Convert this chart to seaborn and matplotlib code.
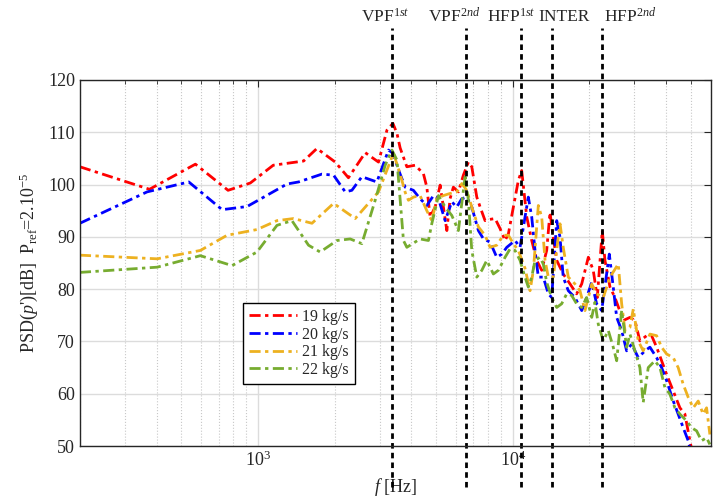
import numpy as np
import pandas as pd
import matplotlib
matplotlib.use("Agg")
import matplotlib.pyplot as plt
import matplotlib.ticker as mticker
import seaborn as sns

# PSD spectra (frequency in Hz, level in dB)
f_19 = [200, 375, 568, 763, 933, 1148, 1510, 1703, 2010, 2265, 2636, 2972, 3207, 3385, 3511,
        3614, 3840, 4137, 4459, 4600, 4739, 4959, 5188, 5512, 5675, 5846, 6118, 6400, 6698,
        6905, 7225, 7447, 7786, 8020, 8524, 8913, 9330, 9615, 10055, 10520, 10840, 11350,
        11870, 12420, 12990, 13590, 14000, 14350, 14880, 15780, 16780, 17810, 18650, 19800,
        20700, 21470, 22460, 23010, 24080, 25180, 27160, 28840, 30170, 31550, 33540, 35080,
        36700, 38400, 40170, 42660, 45300, 47400, 49580, 51080]
p_19 = [103.4, 99.1, 103.9, 98.9, 100.3, 103.7, 104.5, 106.9, 104.3, 101.3, 106.1, 104.3, 110.4,
        111.7, 109.8, 107.0, 103.4, 103.7, 102.1, 99.5, 93.8, 95.7, 99.9, 91.2, 97.3, 99.5,
        98.6, 101.8, 104.3, 103.4, 97.6, 95.7, 93.1, 93.3, 93.5, 91.6, 89.3, 90.6, 95.7, 100.8,
        102.7, 93.8, 89.3, 85.5, 83.6, 87.4, 94.7, 90.6, 85.5, 82.9, 81.0, 79.1, 81.0, 86.1,
        83.6, 78.4, 91.2, 85.5, 80.4, 78.4, 74.0, 74.6, 74.0, 70.1, 71.1, 71.1, 68.9, 66.3,
        63.7, 60.5, 57.3, 56.1, 51.0, 48.0]

f_20 = [200, 367, 535, 723, 906, 1299, 1443, 1782, 1980, 2200, 2336, 2557, 2929, 3253, 3385,
        3511, 3614, 3783, 4074, 4326, 4600, 4885, 5110, 5428, 5763, 6028, 6310, 6600, 6905,
        7330, 7675, 8146, 8654, 9057, 9474, 10210, 10680, 11510, 11870, 12230, 12600, 13180,
        13790, 14220, 14880, 15330, 15780, 16520, 17540, 18650, 19500, 20420, 21340, 22340,
        23930, 24800, 25580, 26760, 27990, 29290, 31090, 33020, 34550, 36700, 38400, 40170,
        42660, 44600, 46670, 48840, 50350]
p_20 = [92.6, 98.6, 100.5, 95.2, 95.8, 100.1, 100.5, 102.0, 101.8, 98.6, 98.9, 101.5, 100.5,
        106.6, 106.0, 103.7, 102.0, 99.5, 98.9, 97.3, 96.0, 97.9, 97.3, 93.1, 96.7, 95.7, 97.3,
        97.6, 95.7, 91.2, 89.6, 89.0, 86.1, 86.7, 88.0, 89.3, 88.0, 97.6, 93.8, 87.4, 82.3,
        82.3, 79.1, 78.4, 93.1, 89.9, 82.3, 79.7, 78.4, 75.9, 78.4, 81.3, 77.2, 75.9, 86.7,
        80.4, 74.6, 72.1, 68.2, 69.5, 66.9, 68.2, 68.9, 66.9, 65.0, 62.5, 58.6, 56.1, 53.5,
        51.0, 48.0]

f_21 = [200, 402, 594, 756, 991, 1187, 1379, 1629, 1980, 2408, 2972, 3402, 3559, 3614, 3783,
        3896, 4074, 4326, 4600, 4810, 5035, 5345, 5675, 6028, 6310, 6600, 6905, 7330, 7786,
        8146, 8654, 9183, 9615, 10055, 10520, 11170, 11690, 12050, 12600, 12990, 13390, 13790,
        14420, 15330, 15780, 16520, 17540, 18360, 19210, 20420, 21340, 22660, 24080, 25950,
        26760, 27570, 28840, 29720, 31090, 32510, 34550, 36700, 38400, 40170, 42660, 44600,
        46670, 48840, 51080, 53450, 55880, 57650, 59390]
p_21 = [86.5, 85.8, 87.4, 90.3, 91.4, 93.1, 93.5, 92.6, 96.4, 93.5, 98.6, 106.0, 103.0, 102.0,
        98.5, 97.0, 97.6, 97.9, 95.0, 93.1, 97.3, 97.9, 98.3, 98.6, 100.2, 98.9, 95.7, 91.9,
        90.3, 88.0, 88.4, 90.3, 90.3, 88.7, 87.4, 84.0, 79.7, 83.6, 96.0, 93.8, 85.5, 82.3,
        82.3, 92.5, 88.0, 82.3, 81.0, 79.7, 75.9, 81.0, 79.1, 78.4, 82.3, 84.8, 77.2, 72.1,
        72.7, 76.2, 70.1, 68.2, 71.4, 71.1, 68.9, 67.6, 66.9, 65.0, 61.8, 59.3, 57.3, 58.6,
        56.1, 57.3, 52.2]

f_22 = [200, 402, 594, 791, 991, 1187, 1359, 1579, 1754, 2042, 2301, 2557, 2884, 3157, 3355,
        3511, 3724, 3840, 4326, 4667, 4810, 5110, 5428, 5763, 6118, 6500, 6698, 6905, 7225,
        7560, 7907, 8392, 8780, 9330, 9759, 10210, 10680, 11170, 11510, 11870, 12230, 12790,
        13180, 13590, 14220, 14880, 15560, 16280, 17030, 17810, 18650, 19500, 20420, 21020,
        21660, 22660, 23710, 24800, 25580, 26760, 27990, 28840, 30170, 31550, 32510, 34030,
        36140, 37820, 39550, 41390, 43300, 45300, 48130, 50350, 52670, 55080, 57650, 59390]
p_22 = [83.2, 84.2, 86.4, 84.5, 87.1, 92.2, 93.1, 88.4, 87.1, 89.3, 89.6, 88.7, 97.0, 103.7,
        106.6, 104.7, 89.3, 88.0, 89.6, 89.3, 92.5, 97.9, 95.7, 94.1, 91.2, 101.5, 97.0, 87.4,
        82.3, 83.6, 85.5, 82.9, 83.6, 86.1, 87.7, 87.4, 85.5, 82.3, 80.4, 82.3, 85.5, 86.1,
        84.8, 81.3, 78.4, 76.5, 77.2, 79.1, 78.8, 77.2, 76.5, 78.4, 74.6, 77.5, 73.3, 70.1,
        72.1, 68.9, 66.3, 75.9, 68.9, 71.4, 68.2, 65.0, 58.3, 65.0, 66.3, 65.0, 61.2, 59.9,
        57.3, 56.1, 54.8, 53.5, 52.9, 51.0, 51.6, 50.3]

labels = ["19 kg/s", "20 kg/s", "21 kg/s", "22 kg/s"]
colors = ["#FF0000", "#0000FF", "#EDB120", "#77AC30"]

# characteristic frequencies (vertical markers) and their labels
mark_f = [3355, 6577, 10780, 14260, 22340]
mark_txt = [r"VPF$^{1st}$", r"VPF$^{2nd}$", r"HFP$^{1st}$", "INTER", r"HFP$^{2nd}$"]
mark_txt_f = [3155, 5890, 9840, 15890, 28840]

sns.set_style("white")
plt.rcParams["font.family"] = ["Liberation Serif", "DejaVu Serif"]
plt.rcParams["mathtext.fontset"] = "custom"
plt.rcParams["mathtext.rm"] = "Liberation Serif"
plt.rcParams["mathtext.it"] = "Liberation Serif:italic"

fig = plt.figure(figsize=(7.2, 4.99), dpi=100)
ax = fig.add_axes([0.111, 0.1062, 0.8765, 0.7335])

series = [(f_19, p_19), (f_20, p_20), (f_21, p_21), (f_22, p_22)]
for (f, p), lab, c in zip(series, labels, colors):
    df = pd.DataFrame({"f": f, "psd": p})
    sns.lineplot(data=df, x="f", y="psd", ax=ax, color=c, label=lab,
                 linewidth=2.0, dashes=False)
    ax.lines[-1].set_dashes((4, 1.6, 1.2, 1.6))

ax.set_xscale("log")
ax.set_xlim(200, 60000)
ax.set_ylim(50, 120)
ax.set_yticks(np.arange(50, 121, 10))
ax.xaxis.set_major_locator(mticker.LogLocator(base=10, numticks=10))
ax.xaxis.set_minor_locator(mticker.LogLocator(base=10, subs=np.arange(2, 10), numticks=20))
ax.xaxis.set_minor_formatter(mticker.NullFormatter())

ax.grid(True, which="major", color="#dcdcdc", linewidth=1.0, linestyle="-")
ax.grid(True, which="minor", axis="x", color="#c8c8c8", linewidth=0.8, linestyle=":")
ax.tick_params(which="both", direction="in", top=True, right=True, labelsize=13,
               colors="#262626")
ax.tick_params(which="major", length=5)
ax.tick_params(which="minor", length=3)
for s in ax.spines.values():
    s.set_color("#262626")
    s.set_linewidth(1.0)

ax.set_xlabel(r"$f$ [Hz]", fontsize=13, labelpad=4)
ax.set_ylabel(r"PSD($p$')[dB]  P$_{\rm ref}$=2.10$^{-5}$", fontsize=13, labelpad=6)

trans = ax.get_xaxis_transform()
for fm in mark_f:
    ax.plot([fm, fm], [-0.112, 1.142], transform=trans, color="black",
            linestyle="--", linewidth=2.0, clip_on=False, dashes=(2, 1.5))
for ft, t in zip(mark_txt_f, mark_txt):
    ax.text(ft, 1.172, t, transform=trans, ha="center", va="center", fontsize=12.5)

leg = ax.legend(loc="lower left", bbox_to_anchor=(0.258, 0.169), fontsize=11.5,
                frameon=True, fancybox=False, edgecolor="black", framealpha=1,
                borderaxespad=0, handlelength=3.0, handletextpad=0.3,
                labelspacing=0.1, borderpad=0.4)
leg.get_frame().set_linewidth(1.0)

fig.savefig("out.png", dpi=100)
